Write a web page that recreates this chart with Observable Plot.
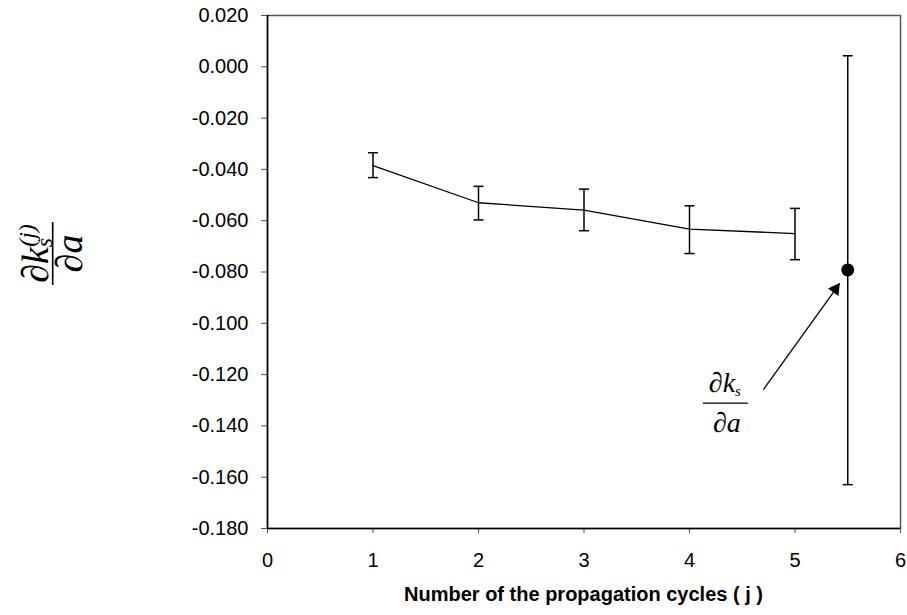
<!DOCTYPE html>
<html><head><meta charset="utf-8">
<script src="https://cdn.jsdelivr.net/npm/d3@7"></script>
<script src="https://cdn.jsdelivr.net/npm/@observablehq/plot@0.6"></script>
<style>html,body{margin:0;padding:0;background:#fff;} #chart{width:907px;height:615px;}</style>
</head><body><div id="chart"></div>
<script>
// ---- data ----
const cycles = [1, 2, 3, 4, 5];
const meanValues = [-0.0385, -0.0530, -0.0559, -0.0633, -0.0650];
const lowerValues = [-0.0432, -0.0597, -0.0639, -0.0728, -0.0752];
const upperValues = [-0.0335, -0.0466, -0.0477, -0.0542, -0.0552];
const overallX = [5.5];
const overallMean = [-0.0792];
const overallLower = [-0.1629];
const overallUpper = [0.0043];
const xTicks = [0, 1, 2, 3, 4, 5, 6];
const yTicks = [0.02, 0, -0.02, -0.04, -0.06, -0.08, -0.10, -0.12, -0.14, -0.16, -0.18];
const arrowTail = [4.70, -0.1259];
const arrowTip = [5.425, -0.0844];
const arrowHead = [5.383, -0.0867];
const annotationAt = [4.34, -0.1313];
const xTitle = "Number of the propagation cycles ( j )";

const rows = cycles.map((j, i) => ({j, mean: meanValues[i], lo: lowerValues[i], hi: upperValues[i]}));
const overall = overallX.map((j, i) => ({j, mean: overallMean[i], lo: overallLower[i], hi: overallUpper[i]}));

const capSymbol = {draw(ctx, size) { const w = Math.sqrt(size / Math.PI); ctx.moveTo(-w, 0); ctx.lineTo(w, 0); }};

const plot = Plot.plot({
  width: 907, height: 615,
  marginLeft: 267, marginRight: 7, marginTop: 15, marginBottom: 87,
  style: {fontFamily: "'Liberation Sans', Arial, sans-serif", fontSize: "20px", color: "black", background: "white"},
  x: {domain: [0, 6]},
  y: {domain: [-0.18, 0.02]},
  marks: [
    Plot.frame({stroke: "#555", strokeWidth: 1.5}),
    Plot.axisY({ticks: yTicks, tickFormat: d => d.toFixed(3), tickSize: 6, tickPadding: 13, label: null, fontSize: 20, stroke: "#555"}),
    Plot.axisX({ticks: xTicks, tickFormat: d => String(d), tickSize: 5, tickPadding: 19, label: null, fontSize: 20, stroke: "#555"}),
    Plot.ruleX([0], {stroke: "black", strokeWidth: 1.5}),
    Plot.ruleY([-0.18], {stroke: "black", strokeWidth: 1.5}),
    Plot.line(rows, {x: "j", y: "mean", stroke: "black", strokeWidth: 1.3}),
    Plot.ruleX(rows, {x: "j", y1: "lo", y2: "hi", stroke: "black", strokeWidth: 1.5}),
    Plot.dot(rows, {x: "j", y: "lo", symbol: capSymbol, r: 5, stroke: "black", strokeWidth: 1.5}),
    Plot.dot(rows, {x: "j", y: "hi", symbol: capSymbol, r: 5, stroke: "black", strokeWidth: 1.5}),
    Plot.ruleX(overall, {x: "j", y1: "lo", y2: "hi", stroke: "black", strokeWidth: 1.5}),
    Plot.dot(overall, {x: "j", y: "lo", symbol: capSymbol, r: 5, stroke: "black", strokeWidth: 1.5}),
    Plot.dot(overall, {x: "j", y: "hi", symbol: capSymbol, r: 5, stroke: "black", strokeWidth: 1.5}),
    Plot.dot(overall, {x: "j", y: "mean", r: 6.5, fill: "black"}),
    Plot.link([{x1: arrowTail[0], y1: arrowTail[1], x2: arrowTip[0], y2: arrowTip[1]}], {x1: "x1", y1: "y1", x2: "x2", y2: "y2", stroke: "black", strokeWidth: 1.3}),
    Plot.dot([{x: arrowHead[0], y: arrowHead[1]}], {x: "x", y: "y", symbol: "triangle", rotate: 35.5, r: 4.8, fill: "black"})
  ]
});
document.getElementById("chart").appendChild(plot);

const svg = d3.select(plot);
const sx = plot.scale("x"), sy = plot.scale("y");

// x-axis title
svg.append("text").attr("x", (sx.apply(0) + sx.apply(6)) / 2).attr("y", 601)
  .attr("text-anchor", "middle").attr("font-weight", "bold").attr("font-size", 20)
  .attr("font-family", "'Liberation Sans', Arial, sans-serif").attr("fill", "black").text(xTitle);

// y-axis label (rotated fraction)
const yl = svg.append("g").attr("transform", "translate(52.7,253.5) rotate(-90)")
  .attr("font-family", "'Liberation Serif', 'Times New Roman', serif").attr("fill", "black");
yl.append("line").attr("x1", -31.5).attr("x2", 31.5).attr("y1", 0).attr("y2", 0).attr("stroke", "black").attr("stroke-width", 1.6);
const num = yl.append("text").attr("x", 0).attr("y", -5).attr("text-anchor", "middle").attr("font-size", 38).attr("font-style", "italic");
num.append("tspan").text("∂");
num.append("tspan").text("k");
num.append("tspan").attr("font-size", 24).attr("dy", 4).text("s");
num.append("tspan").attr("font-size", 24).attr("dx", -9).attr("dy", -17).text("(j)");
const den = yl.append("text").attr("x", 0).attr("y", 29).attr("text-anchor", "middle").attr("font-size", 38).attr("font-style", "italic");
den.append("tspan").text("∂");
den.append("tspan").text("a");

// annotation fraction
const ax = sx.apply(annotationAt[0]), ay = sy.apply(annotationAt[1]);
const an = svg.append("g").attr("font-family", "'Liberation Serif', 'Times New Roman', serif").attr("fill", "black");
an.append("line").attr("x1", ax - 22).attr("x2", ax + 23).attr("y1", ay).attr("y2", ay).attr("stroke", "black").attr("stroke-width", 1.2);
const an1 = an.append("text").attr("x", ax).attr("y", ay - 11).attr("text-anchor", "middle").attr("font-size", 28);
an1.append("tspan").text("∂");
an1.append("tspan").attr("font-style", "italic").text("k");
an1.append("tspan").attr("font-style", "italic").attr("font-size", 15).attr("dy", 4).text("s");
const an2 = an.append("text").attr("x", ax + 2).attr("y", ay + 29).attr("text-anchor", "middle").attr("font-size", 28);
an2.append("tspan").text("∂");
an2.append("tspan").attr("font-style", "italic").text("a");
</script>
</body></html>
